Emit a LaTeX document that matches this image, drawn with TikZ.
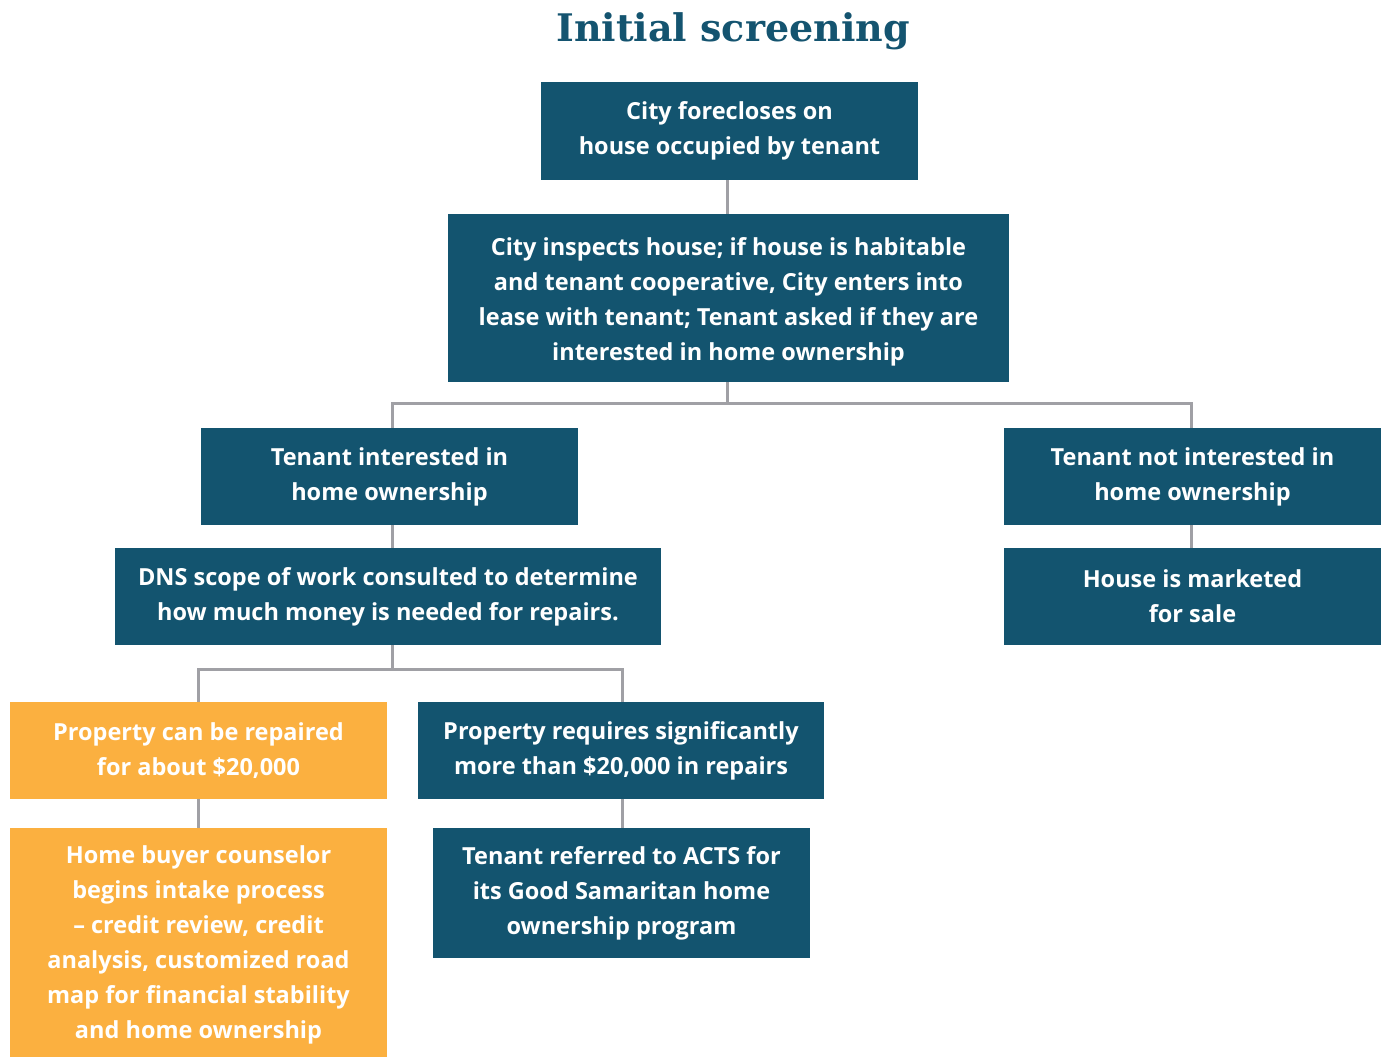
\documentclass[tikz,border=0pt]{standalone}
\usepackage{fontspec}
\setmainfont{Open Sans}
\newfontfamily\titlefont{DejaVu Serif}
\definecolor{teal}{HTML}{13546F}
\definecolor{orng}{HTML}{FBB040}
\definecolor{lgray}{HTML}{A0A0A5}
\definecolor{ttl}{HTML}{145470}
\begin{document}
\begin{tikzpicture}[x=1pt,y=-1pt,
  box/.style={fill=teal,text=white,inner sep=0pt,align=center,font=\fontsize{23.5}{35}\selectfont\bfseries},
  obox/.style={box,fill=orng},
  conn/.style={draw=lgray,line width=3pt}]
\useasboundingbox (0,0) rectangle (1382,1057);
\fill[white] (0,0) rectangle (1382,1057);
\node[text=ttl,font=\fontsize{38}{40}\selectfont\titlefont\bfseries] (title) at (733,31) {Initial screening};
\node[box,minimum width=377pt,minimum height=98pt] (A) at (729.5,131) {City forecloses on\\house occupied by tenant};
\node[box,minimum width=561pt,minimum height=168pt] (B) at (728.5,298) {};
\node[box,anchor=center] (Btext) at (728.5,301.5) {City inspects house; if house is habitable\\and tenant cooperative, City enters into\\lease with tenant; Tenant asked if they are\\interested in home ownership};
\node[box,minimum width=377pt,minimum height=97pt] (C) at (389.5,476.5) {Tenant interested in\\home ownership};
\node[box,minimum width=377pt,minimum height=97pt] (D) at (1192.5,476.5) {Tenant not interested in\\home ownership};
\node[box,minimum width=546pt,minimum height=97pt] (E) at (388,596.5) {DNS scope of work consulted to determine\\how much money is needed for repairs.};
\node[box,minimum width=377pt,minimum height=97pt] (F) at (1192.5,596.5) {House is marketed\\for sale};
\node[obox,minimum width=377pt,minimum height=97pt] (G) at (198.5,750.5) {Property can be repaired\\for about \$20,000};
\node[box,minimum width=406pt,minimum height=97pt] (H) at (621,750.5) {Property requires significantly\\more than \$20,000 in repairs};
\node[obox,minimum width=377pt,minimum height=229pt] (I) at (198.5,942.5) {};
\node[obox,anchor=center] (Itext) at (198.5,945) {Home buyer counselor\\begins intake process\\– credit review, credit\\analysis, customized road\\map for financial stability\\and home ownership};
\node[box,minimum width=377pt,minimum height=130pt] (J) at (621.5,893) {Tenant referred to ACTS for\\its Good Samaritan home\\ownership program};
\coordinate (j1) at (727,403);
\coordinate (j2) at (392,669);
\coordinate (cl) at (392,403);
\coordinate (cr) at (1191,403);
\coordinate (gl) at (198,669);
\coordinate (hr) at (622,669);
\draw[conn] (j1 |- A.south) -- (j1 |- B.north);
\draw[conn] (j1 |- B.south) -- (j1);
\draw[conn] (cl |- C.north) -- (cl) -- (cr) -- (cr |- D.north);
\draw[conn] (cl |- C.south) -- (cl |- E.north);
\draw[conn] (cr |- D.south) -- (cr |- F.north);
\draw[conn] (j2 |- E.south) -- (j2);
\draw[conn] (gl |- G.north) -- (gl) -- (hr) -- (hr |- H.north);
\draw[conn] (gl |- G.south) -- (gl |- I.north);
\draw[conn] (hr |- H.south) -- (hr |- J.north);
\end{tikzpicture}
\end{document}
